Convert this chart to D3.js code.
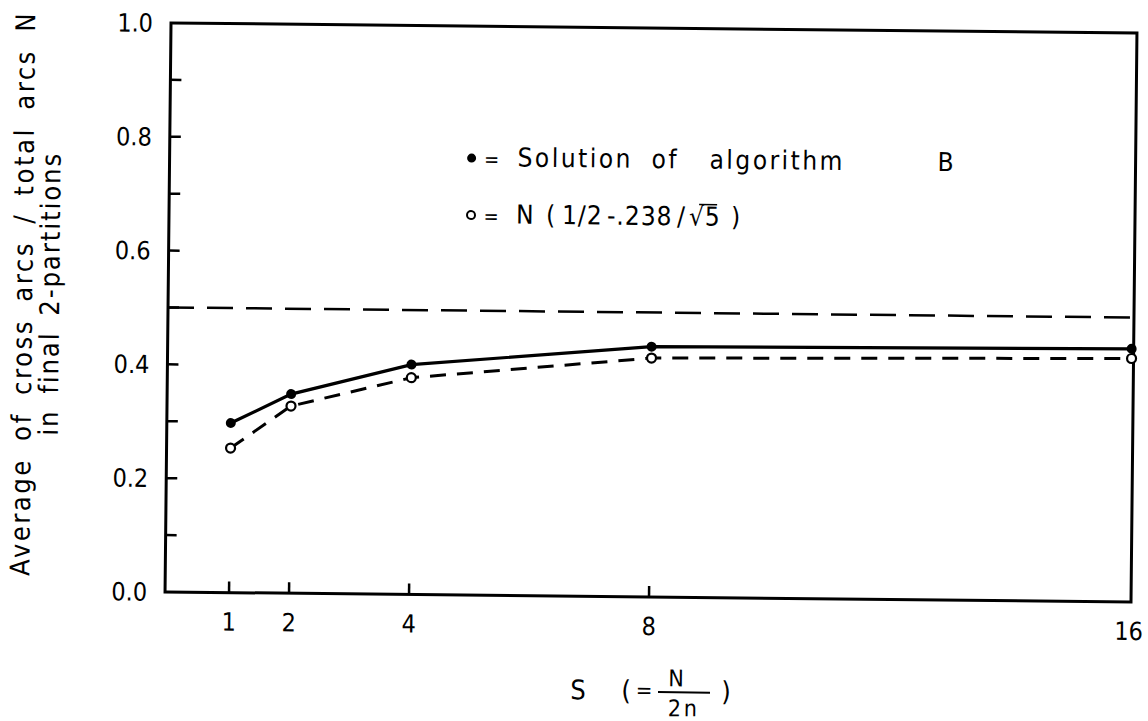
<!DOCTYPE html>
<html>
<head>
<meta charset="utf-8">
<script src="https://cdn.jsdelivr.net/npm/d3@7"></script>
<style>
  html, body { margin: 0; padding: 0; background: #fff; }
  svg { display: block; }
  text { font-family: "Liberation Sans Narrow", "DejaVu Sans Condensed", "Liberation Sans", sans-serif; fill: #000; }
</style>
</head>
<body>
<svg id="chart" width="1148" height="721"></svg>
<script>
// Partition size S (= N / 2n)
const sizes = [1, 2, 4, 8, 16];
// Average fraction of cross arcs found by algorithm B
const algorithmB = [0.298, 0.350, 0.404, 0.440, 0.445];
// Reference values N(1/2 - .238/sqrt(S))
const boundValues = [0.254, 0.329, 0.381, 0.420, 0.428];
// Horizontal reference level
const refLevel = [0.5];
// Axis ticks
const xTickValues = [1, 2, 4, 8, 16];
const yTickLabels = [0, 0.2, 0.4, 0.6, 0.8, 1.0];
const yMinorTicks = [0.1, 0.2, 0.3, 0.4, 0.5, 0.6, 0.7, 0.8, 0.9];
// Legend wording
const legendWords = ["Solution", "of", "algorithm", "B"];

const frame = { left: 168, right: 1134, top: 28, bottom: 597 };

const svg = d3.select("#chart");
// the whole sheet sits at a slight tilt
const g = svg.append("g")
  .attr("transform", `rotate(0.6, ${(frame.left + frame.right) / 2}, ${(frame.top + frame.bottom) / 2})`);

const x = d3.scaleLinear().domain([0, 16]).range([172, 1132]);
const y = d3.scaleLinear().domain([0, 1]).range([frame.bottom, frame.top]);

// frame
g.append("rect")
  .attr("x", frame.left).attr("y", frame.top)
  .attr("width", frame.right - frame.left).attr("height", frame.bottom - frame.top)
  .attr("fill", "none").attr("stroke", "#000").attr("stroke-width", 3);

// left axis: inward minor ticks every 0.1
g.append("g").selectAll("line").data(yMinorTicks).join("line")
  .attr("x1", frame.left).attr("x2", frame.left + 11)
  .attr("y1", d => y(d)).attr("y2", d => y(d))
  .attr("stroke", "#000").attr("stroke-width", 2.5);

// left axis labels
g.append("g").selectAll("text").data(yTickLabels).join("text")
  .attr("x", 150).attr("y", d => y(d))
  .attr("dy", "0.36em")
  .attr("text-anchor", "end")
  .attr("font-size", 25)
  .text(d => d3.format(".1f")(d));

// bottom axis: inward ticks
g.append("g").selectAll("line").data(xTickValues.filter(d => d < 16)).join("line")
  .attr("x1", d => x(d)).attr("x2", d => x(d))
  .attr("y1", frame.bottom).attr("y2", frame.bottom - 11)
  .attr("stroke", "#000").attr("stroke-width", 2.5);

g.append("g").selectAll("text").data(xTickValues).join("text")
  .attr("x", d => x(d)).attr("y", frame.bottom + 38)
  .attr("text-anchor", "middle")
  .attr("font-size", 25)
  .text(d => d);

// axis titles
const yTitle = g.append("g").attr("transform", "translate(32, 300) rotate(-90)");
yTitle.append("text")
  .attr("text-anchor", "middle").attr("font-size", 27).attr("letter-spacing", 2.6).attr("word-spacing", 7)
  .text("Average of cross arcs / total arcs N");
yTitle.append("text")
  .attr("y", 27)
  .attr("text-anchor", "middle").attr("font-size", 27).attr("letter-spacing", 2).attr("word-spacing", 6)
  .text("in final  2-partitions");

const xTitle = g.append("g").attr("font-size", 27);
xTitle.append("text").attr("x", 582).attr("y", 700).attr("text-anchor", "middle").text("S");
xTitle.append("text").attr("x", 630).attr("y", 700).attr("text-anchor", "middle").text("(");
xTitle.append("text").attr("x", 648).attr("y", 698).attr("text-anchor", "middle").attr("font-size", 22).text("=");
xTitle.append("text").attr("x", 680).attr("y", 686).attr("text-anchor", "middle").attr("font-size", 23).text("N");
xTitle.append("line").attr("x1", 662).attr("x2", 714).attr("y1", 692).attr("y2", 692)
  .attr("stroke", "#000").attr("stroke-width", 2);
xTitle.append("text").attr("x", 688).attr("y", 716).attr("text-anchor", "middle").attr("font-size", 23)
  .attr("letter-spacing", 3).text("2n");
xTitle.append("text").attr("x", 730).attr("y", 700).attr("text-anchor", "middle").text(")");

// 0.5 reference line
g.append("g").selectAll("line").data(refLevel).join("line")
  .attr("x1", frame.left).attr("x2", frame.right)
  .attr("y1", d => y(d)).attr("y2", d => y(d))
  .attr("stroke", "#000").attr("stroke-width", 2.5)
  .attr("stroke-dasharray", "26 13");

const ptsB = sizes.map((s, i) => [s, algorithmB[i]]);
const ptsBound = sizes.map((s, i) => [s, boundValues[i]]);
const line = d3.line().x(d => x(d[0])).y(d => y(d[1]));

g.append("path").datum(ptsBound)
  .attr("d", line).attr("fill", "none")
  .attr("stroke", "#000").attr("stroke-width", 3)
  .attr("stroke-dasharray", "16 11");

g.append("path").datum(ptsB)
  .attr("d", line).attr("fill", "none")
  .attr("stroke", "#000").attr("stroke-width", 3.2);

g.append("g").selectAll("circle").data(ptsBound).join("circle")
  .attr("cx", d => x(d[0])).attr("cy", d => y(d[1])).attr("r", 4.5)
  .attr("fill", "#fff").attr("stroke", "#000").attr("stroke-width", 2.2);

g.append("g").selectAll("circle").data(ptsB).join("circle")
  .attr("cx", d => x(d[0])).attr("cy", d => y(d[1])).attr("r", 5)
  .attr("fill", "#000");

// legend
const legend = g.append("g").attr("font-size", 26);
legend.append("circle").attr("cx", 470).attr("cy", 160).attr("r", 4.5).attr("fill", "#000");
legend.append("text").attr("x", 490).attr("y", 168).attr("text-anchor", "middle").attr("font-size", 20).text("=");
const wordX = [516, 650, 708, 936];
legend.append("text").attr("y", 168).attr("letter-spacing", 2.5)
  .selectAll("tspan").data(legendWords).join("tspan")
  .attr("x", (d, i) => wordX[i])
  .text(d => d);

legend.append("circle").attr("cx", 470).attr("cy", 217).attr("r", 4).attr("fill", "#fff")
  .attr("stroke", "#000").attr("stroke-width", 2);
legend.append("text").attr("x", 490).attr("y", 225).attr("text-anchor", "middle").attr("font-size", 20).text("=");
const formulaParts = [
  { t: "N", x: 515 }, { t: "(", x: 545 }, { t: "1/2", x: 561 },
  { t: "-.238", x: 606 }, { t: "/", x: 676 }, { t: "√5", x: 688 }, { t: ")", x: 730 }
];
legend.append("g").selectAll("text").data(formulaParts).join("text")
  .attr("x", d => d.x).attr("y", 225).attr("letter-spacing", 1)
  .text(d => d.t);
// radical bar over the 5
legend.append("line").attr("x1", 698).attr("x2", 716).attr("y1", 204).attr("y2", 204)
  .attr("stroke", "#000").attr("stroke-width", 1.6);
</script>
</body>
</html>
